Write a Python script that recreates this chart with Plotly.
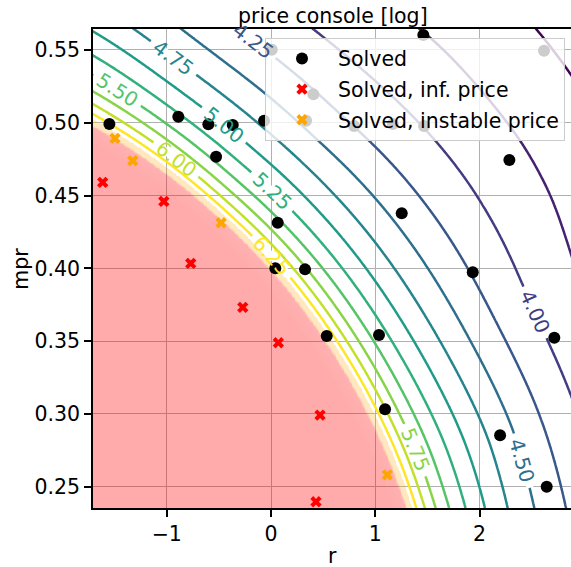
import numpy as np
import plotly.graph_objects as go
from plotly.colors import sample_colorscale

# ---------------- data ----------------
# scatter: solved points
solved_r = [-1.550, -0.889, -0.601, -0.367, -0.067, -0.527, 0.007, 0.406, 0.336, 0.796,
            1.167, 1.467, 2.617, 1.460, 2.285, 1.253, 1.934, 0.064, 0.041, 0.326,
            0.534, 1.035, 2.716, 1.093, 2.196, 2.643]
solved_mpr = [0.4991, 0.5041, 0.4989, 0.4984, 0.5014, 0.4767, 0.5501, 0.5195, 0.5014, 0.4977,
              0.4991, 0.4977, 0.5495, 0.5602, 0.4744, 0.4378, 0.3973, 0.4313, 0.4000, 0.3993,
              0.3535, 0.3542, 0.3523, 0.3032, 0.2853, 0.2500]
# scatter: solved, infinite price
inf_r = [-1.614, -1.028, -0.770, -0.271, 0.070, 0.470, 0.431]
inf_mpr = [0.4591, 0.4460, 0.4034, 0.3732, 0.3489, 0.2992, 0.2397]
# scatter: solved, instable price
inst_r = [-1.496, -1.326, -0.479, 1.115]
inst_mpr = [0.4893, 0.4739, 0.4313, 0.2582]

# points traced along the contour lines of log console price (level, r, mpr)
trace_level = [6.25, 6.25, 6.25, 6.25, 6.25, 6.25,
               6.00, 6.00, 6.00, 6.00,
               5.75, 5.75, 5.75,
               5.50, 5.50, 5.50,
               5.25, 5.25, 5.25,
               5.00, 5.00, 5.00,
               4.75, 4.75, 4.75, 4.75,
               4.50, 4.50, 4.50, 4.50, 4.50,
               4.25, 4.25, 4.25, 4.25, 4.25, 4.25, 4.25,
               4.00, 4.00, 4.00, 4.00, 4.00, 4.00, 4.00,
               3.75, 3.75, 3.75,
               3.50, 3.50]
trace_r = [-1.713, -0.479, 0.019, 0.230, 0.566, 1.353,
           -1.713, -0.901, 1.093, 1.464,
           -1.713, 1.429, 1.608,
           -1.713, -1.448, 1.752,
           -1.713, 0.067, 1.896,
           -1.707, -0.422, 2.056,
           -1.371, -0.949, 2.196, 2.264,
           -0.968, 1.013, 1.940, 2.359, 2.488,
           -0.403, -0.201, 0.566, 1.413, 2.100, 2.547, 2.807,
           0.451, 1.524, 2.004, 2.368, 2.454, 2.627, 2.867,
           1.697, 2.483, 2.867,
           2.512, 2.867]
trace_mpr = [0.5032, 0.4387, 0.4091, 0.3908, 0.3575, 0.2352,
             0.5128, 0.4758, 0.3032, 0.2352,
             0.5238, 0.2762, 0.2352,
             0.5355, 0.5252, 0.2352,
             0.5499, 0.4573, 0.2352,
             0.5641, 0.5012, 0.2352,
             0.5641, 0.5431, 0.2853, 0.2352,
             0.5641, 0.4469, 0.3462, 0.2662, 0.2352,
             0.5641, 0.5534, 0.4964, 0.4467, 0.3714, 0.3004, 0.2352,
             0.5641, 0.4902, 0.4400, 0.3851, 0.3672, 0.3460, 0.3075,
             0.5641, 0.4902, 0.4517,
             0.5641, 0.5314]

# inline contour labels (level, position)
label_level = [4.25, 4.75, 5.50, 5.00, 6.00, 5.25, 6.25, 4.00, 5.75, 4.50]
label_r = [-0.201, -0.949, -1.448, -0.422, -0.901, 0.067, 0.019, 2.454, 1.429, 2.359]
label_mpr = [0.5534, 0.5431, 0.5252, 0.5012, 0.4758, 0.4573, 0.4091, 0.3672, 0.2766, 0.2670]

levels_start, levels_end, levels_step = 3.5, 6.25, 0.25
x_ticks = [-1, 0, 1, 2]
y_ticks = [0.25, 0.30, 0.35, 0.40, 0.45, 0.50, 0.55]
x_range = [-1.707, 2.876]
y_range = [0.2354, 0.5644]

W, H = 571, 567
ml, mr, mt, mb = 93, 0, 29, 59
sx = (W - ml - mr) / (x_range[1] - x_range[0])   # px per unit r
sy = (H - mt - mb) / (y_range[1] - y_range[0])   # px per unit mpr

# ---------------- smooth surface through the traced contour points ----------------
tr_a = np.array(trace_r)
tm_a = np.array(trace_mpr)
tl_a = np.array(trace_level)

# (1) base: inverse price as a quadratic in (r, mpr), fitted with relative weights
def qfeats(r, m):
    r = np.asarray(r, dtype=float)
    m = np.asarray(m, dtype=float)
    return np.stack([np.ones_like(r), r, m, r * r, r * m, m * m], axis=-1)

ty = np.exp(-tl_a)
qcoef, *_ = np.linalg.lstsq(qfeats(tr_a, tm_a) / ty[:, None], np.ones_like(ty), rcond=None)

def zbase(r, m):
    y = qfeats(r, m) @ qcoef
    return -np.log(np.clip(y, 3e-4, None))

# (2) smooth thin-plate correction of the remaining misfit
cx = tr_a * sx / 100.0
cy = tm_a * sy / 100.0
res = tl_a - zbase(tr_a, tm_a)
N = len(cx)

def phi(d):
    with np.errstate(divide='ignore', invalid='ignore'):
        return np.where(d > 0, d * d * np.log(d), 0.0)

D = np.hypot(cx[:, None] - cx[None, :], cy[:, None] - cy[None, :])
Amat = np.zeros((N + 3, N + 3))
Amat[:N, :N] = phi(D) + 3.0 * np.eye(N)
Amat[:N, N] = 1.0
Amat[:N, N + 1] = cx
Amat[:N, N + 2] = cy
Amat[N, :N] = 1.0
Amat[N + 1, :N] = cx
Amat[N + 2, :N] = cy
sol = np.linalg.solve(Amat, np.concatenate([res, np.zeros(3)]))
wts, aff = sol[:N], sol[N:]

def zfun(r, m):
    r = np.asarray(r, dtype=float)
    m = np.asarray(m, dtype=float)
    px = r * sx / 100.0
    py = m * sy / 100.0
    d = np.hypot(px[..., None] - cx, py[..., None] - cy)
    return zbase(r, m) + phi(d) @ wts + aff[0] + aff[1] * px + aff[2] * py

rg = np.linspace(-1.75, 2.92, 300)
mg = np.linspace(0.230, 0.570, 300)
R, M = np.meshgrid(rg, mg)
Z = zfun(R, M)
lo, hi = 5.5, 8.0
Zc = np.clip(Z, lo, hi)

fig = go.Figure()

# infinite / instable price region
def f(v):
    return (v - lo) / (hi - lo)
region_scale = [
    [0.0, 'rgba(255,255,255,0)'],
    [f(6.37), 'rgba(255,255,255,0)'],
    [f(6.43), 'rgba(255,165,0,0.26)'],
    [f(6.62), 'rgba(255,165,0,0.26)'],
    [f(6.74), 'rgba(255,0,0,0.31)'],
    [1.0, 'rgba(255,0,0,0.33)'],
]
fig.add_trace(go.Heatmap(x=rg, y=mg, z=Zc, zmin=lo, zmax=hi, colorscale=region_scale,
                         zsmooth='best', showscale=False, hoverinfo='skip', showlegend=False))

fig.add_trace(go.Contour(
    x=rg, y=mg, z=Z, autocontour=False,
    contours=dict(start=levels_start, end=levels_end, size=levels_step, coloring='lines',
                  showlabels=False),
    colorscale='Viridis', zmin=levels_start, zmax=levels_end, showscale=False,
    line=dict(width=2.5), hoverinfo='skip', showlegend=False))

# ----- inline labels: snap to line, orient along it, mask the line under the text -----
font = 'DejaVu Sans'
label_fs = 20

def grad_px(r, m):
    h_r, h_m = 1e-4, 1e-5
    dzr = (zfun(r + h_r, m) - zfun(r - h_r, m)) / (2 * h_r)
    dzm = (zfun(r, m + h_m) - zfun(r, m - h_m)) / (2 * h_m)
    return float(dzr) / sx, -float(dzm) / sy

mask_x, mask_y, annos = [], [], []
for lev, r0, m0 in zip(label_level, label_r, label_mpr):
    r, m = r0, m0
    for _ in range(8):
        gx, gy = grad_px(r, m)
        g2 = gx * gx + gy * gy
        d = float(zfun(r, m)) - lev
        r -= d * gx / g2 / sx
        m += d * gy / g2 / sy
    gx, gy = grad_px(r, m)
    tx, ty_ = gy, -gx
    nrm = np.hypot(tx, ty_)
    tx, ty_ = tx / nrm, ty_ / nrm
    ang = np.degrees(np.arctan2(ty_, tx))
    if ang > 90:
        ang -= 180
    elif ang <= -90:
        ang += 180
    txt = f'{lev:.2f}'
    half = 0.5 * label_fs * (3 * 0.636 + 0.318) + 6
    mask_x += [r - half * tx / sx, r + half * tx / sx, None]
    mask_y += [m + half * ty_ / sy, m - half * ty_ / sy, None]
    col = sample_colorscale('Viridis', [(lev - levels_start) / (levels_end - levels_start)])[0]
    annos.append(dict(text=txt, x=r, y=m, xref='x', yref='y', showarrow=False,
                      textangle=float(ang), xanchor='center', yanchor='middle',
                      font=dict(family=font, size=label_fs, color=col)))

fig.add_trace(go.Scatter(x=mask_x, y=mask_y, mode='lines', line=dict(color='white', width=7),
                         hoverinfo='skip', showlegend=False))

fig.add_trace(go.Scatter(x=solved_r, y=solved_mpr, mode='markers', name='Solved',
                         marker=dict(color='black', size=12, symbol='circle'), legendgroup='a'))
fig.add_trace(go.Scatter(x=inf_r, y=inf_mpr, mode='markers', name='Solved, inf. price',
                         marker=dict(color='red', size=10, symbol='x'), legendgroup='b'))
fig.add_trace(go.Scatter(x=inst_r, y=inst_mpr, mode='markers', name='Solved, instable price',
                         marker=dict(color='orange', size=10, symbol='x'), legendgroup='c'))

axis_common = dict(showgrid=True, gridcolor='#b0b0b0', gridwidth=1.4, zeroline=False,
                   showline=True, linecolor='black', linewidth=1.5, ticks='outside',
                   ticklen=7, tickwidth=1.5, tickcolor='black', automargin=False,
                   tickfont=dict(family=font, size=20.5, color='black'))
fig.update_layout(
    width=W, height=H,
    margin=dict(l=ml, r=mr, t=mt, b=mb, autoexpand=False),
    plot_bgcolor='white', paper_bgcolor='white',
    xaxis=dict(range=x_range, tickvals=x_ticks, mirror=True, **axis_common),
    yaxis=dict(range=y_range, tickvals=y_ticks, tickformat='.2f', mirror=False,
               **axis_common),
    legend=dict(x=(265 - ml) / (W - ml), y=0.982, xanchor='left', yanchor='top', itemwidth=62,
                bgcolor='rgba(255,255,255,0.8)', bordercolor='#cccccc', borderwidth=1,
                font=dict(family=font, size=20.5, color='black'), tracegroupgap=1),
    annotations=annos + [
        dict(text='price console [log]', xref='paper', yref='paper', x=0.502, y=1.027,
             xanchor='center', yanchor='middle', showarrow=False,
             font=dict(family=font, size=20.5, color='black')),
        dict(text='r', xref='paper', yref='paper', x=0.502, y=-0.100,
             xanchor='center', yanchor='middle', showarrow=False,
             font=dict(family=font, size=20.5, color='black')),
        dict(text='mpr', xref='paper', yref='paper', x=-0.152, y=0.5, textangle=-90,
             xanchor='center', yanchor='middle', showarrow=False,
             font=dict(family=font, size=20.5, color='black')),
    ],
)
fig.write_html('out.html', config={'displayModeBar': False},
               post_script="document.body.style.margin='0px';")
